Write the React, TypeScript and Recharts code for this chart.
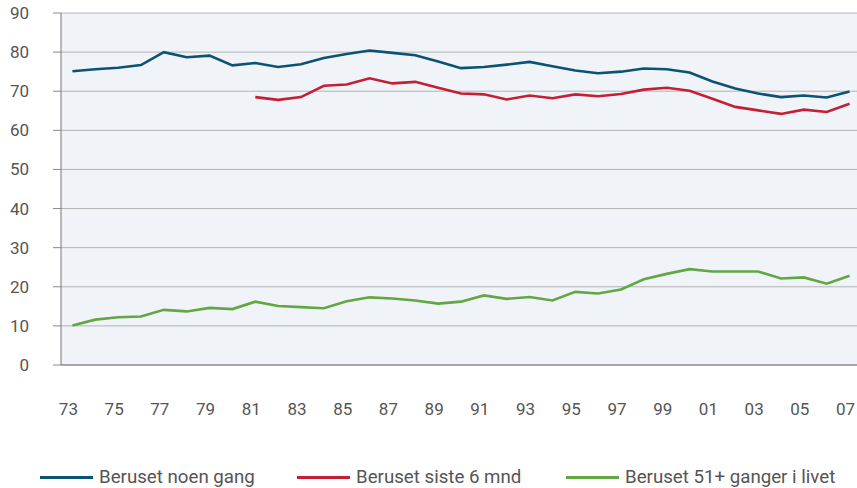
import { LineChart, Line, XAxis, YAxis, CartesianGrid } from 'recharts';

const years = [
  1973, 1974, 1975, 1976, 1977, 1978, 1979, 1980, 1981, 1982, 1983, 1984,
  1985, 1986, 1987, 1988, 1989, 1990, 1991, 1992, 1993, 1994, 1995, 1996,
  1997, 1998, 1999, 2000, 2001, 2002, 2003, 2004, 2005, 2006, 2007,
];

const noenGang = [
  75.1, 75.6, 76.0, 76.7, 80.0, 78.7, 79.1, 76.6, 77.2, 76.2, 76.9, 78.5,
  79.5, 80.4, 79.8, 79.2, 77.6, 75.9, 76.2, 76.8, 77.5, 76.4, 75.3, 74.6,
  75.0, 75.8, 75.6, 74.8, 72.5, 70.7, 69.4, 68.5, 68.9, 68.4, 69.9,
];

const siste6mnd: (number | null)[] = [
  null, null, null, null, null, null, null, null, 68.5, 67.8, 68.5, 71.4,
  71.7, 73.3, 72.0, 72.4, 70.9, 69.4, 69.2, 67.9, 68.9, 68.2, 69.2, 68.7,
  69.3, 70.4, 70.9, 70.1, 68.1, 66.0, 65.1, 64.2, 65.3, 64.7, 66.8,
];

const ganger51: number[] = [
  10.1, 11.6, 12.2, 12.4, 14.1, 13.7, 14.6, 14.3, 16.2, 15.1, 14.8, 14.5,
  16.3, 17.3, 17.0, 16.5, 15.7, 16.2, 17.8, 16.9, 17.4, 16.5, 18.7, 18.3,
  19.3, 21.9, 23.3, 24.5, 23.9, 23.9, 23.9, 22.1, 22.4, 20.8, 22.8,
];

const yTicks = [0, 10, 20, 30, 40, 50, 60, 70, 80, 90];
const boundaryTicks = years.map(y => y - 0.5);
const labelTicks = years.filter(y => y % 2 === 1);

const series = [
  { key: 'noen', name: 'Beruset noen gang', color: '#0c5373' },
  { key: 'siste', name: 'Beruset siste 6 mnd', color: '#c41f36' },
  { key: 'g51', name: 'Beruset 51+ ganger i livet', color: '#62a744' },
];

const data = years.map((year, i) => ({
  year,
  noen: noenGang[i],
  siste: siste6mnd[i],
  g51: ganger51[i],
}));

const font = 'Roboto, sans-serif';
const tickStyle = { fontSize: 17, fill: '#555', fontFamily: font };
const legendWidths = [257, 269, 300];

export default function App() {
  return (
    <div style={{ position: 'absolute', left: 0, top: 0, width: 857, height: 488, overflow: 'hidden', background: '#fff' }}>
      <LineChart width={861} height={430} data={data} margin={{ top: 13, right: 0, bottom: 0, left: 0 }}>
        <CartesianGrid xAxisId="a" vertical={false} stroke="#b3b3b3" fill="#f0f4f8" />
        <XAxis
          xAxisId="a"
          dataKey="year"
          type="number"
          domain={[1972.5, 2007.5]}
          ticks={boundaryTicks}
          tick={false}
          tickSize={8}
          height={8}
          stroke="#777"
          tickLine={{ stroke: '#a5a5a5' }}
          allowDataOverflow
        />
        <XAxis
          xAxisId="b"
          dataKey="year"
          type="number"
          domain={[1972.5, 2007.5]}
          ticks={labelTicks}
          tickFormatter={v => String(v).slice(2)}
          axisLine={false}
          tickLine={false}
          tickSize={0}
          tickMargin={30}
          height={57}
          dx={-4}
          tick={tickStyle}
          interval={0}
        />
        <YAxis
          domain={[0, 90]}
          ticks={yTicks}
          width={61}
          tickSize={8}
          tickMargin={24}
          stroke="#777"
          tickLine={{ stroke: '#8a8a8a' }}
          tick={tickStyle}
          interval={0}
        />
        {series.map(s => (
          <Line
            key={s.key}
            xAxisId="b"
            type="linear"
            dataKey={s.key}
            name={s.name}
            stroke={s.color}
            strokeWidth={2.6}
            dot={false}
            isAnimationActive={false}
          />
        ))}
      </LineChart>
      <div style={{ position: 'absolute', left: 40, top: 465, display: 'flex', fontFamily: font, fontSize: 18.7, color: '#555', whiteSpace: 'nowrap' }}>
        {series.map((s, i) => (
          <div key={s.key} style={{ display: 'flex', alignItems: 'center', width: legendWidths[i] }}>
            <span style={{ display: 'inline-block', width: 53, height: 3, background: s.color, marginRight: 6 }} />
            <span style={{ lineHeight: '24px' }}>{s.name}</span>
          </div>
        ))}
      </div>
    </div>
  );
}
